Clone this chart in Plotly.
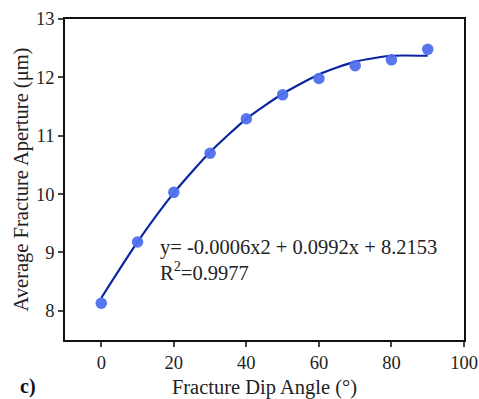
import plotly.graph_objects as go

# Measured aperture vs dip angle
dip_angle = [0, 10, 20, 30, 40, 50, 60, 70, 80, 90]
aperture = [8.13, 9.18, 10.03, 10.70, 11.29, 11.70, 11.98, 12.20, 12.30, 12.48]
# Fitted trend values at each dip angle
fitted = [8.22, 9.18, 10.02, 10.72, 11.29, 11.72, 12.05, 12.27, 12.37, 12.37]

x_ticks = [0, 20, 40, 60, 80, 100]
y_ticks = [8, 9, 10, 11, 12, 13]

FONT = "Liberation Serif, Times New Roman, serif"

# plot area in pixels
L, R, T, B = 65, 15, 19, 59
W, H = 479, 399
PW, PH = W - L - R, H - T - B


def px_x(px):
    return (px - L) / PW


def px_y(py):
    return (H - B - py) / PH


fig = go.Figure()
fig.add_trace(go.Scatter(
    x=dip_angle, y=fitted, mode="lines",
    line=dict(color="#0b24a3", width=2.2, shape="spline", smoothing=0.6),
    showlegend=False, hoverinfo="skip",
))
fig.add_trace(go.Scatter(
    x=dip_angle, y=aperture, mode="markers",
    marker=dict(color="#4f70ee", size=11.5, opacity=0.95),
    showlegend=False,
))

fig.add_annotation(
    x=px_x(158), y=px_y(247), xref="paper", yref="paper",
    xanchor="left", yanchor="middle",
    text="y= -0.0006x2 + 0.0992x + 8.2153", showarrow=False,
    font=dict(family=FONT, size=20.5, color="#222"),
)
fig.add_annotation(
    x=px_x(158), y=px_y(271), xref="paper", yref="paper",
    xanchor="left", yanchor="middle",
    text="R<sup>2</sup>=0.9977", showarrow=False,
    font=dict(family=FONT, size=20.5, color="#222"),
)
fig.add_annotation(
    x=px_x(28), y=px_y(386), xref="paper", yref="paper",
    xanchor="center", yanchor="middle",
    text="<b>c)</b>", showarrow=False,
    font=dict(family=FONT, size=20, color="#111"),
)

fig.update_layout(
    width=W, height=H,
    margin=dict(l=L, r=R, t=T, b=B, autoexpand=False),
    paper_bgcolor="white", plot_bgcolor="white",
    font=dict(family=FONT, size=18, color="#222"),
)

fig.update_xaxes(
    range=[-10, 100], tickvals=x_ticks, ticks="outside", ticklen=5, tickwidth=1.5,
    showline=True, linecolor="#111", linewidth=1.8, mirror=True, showgrid=False,
    zeroline=False, tickfont=dict(size=18.5), automargin=False,
    title=dict(text="Fracture Dip Angle (°)", font=dict(size=20.5), standoff=10),
)
fig.update_yaxes(
    range=[7.5, 13], tickvals=y_ticks, ticks="outside", ticklen=5, tickwidth=1.5,
    showline=True, linecolor="#111", linewidth=1.8, mirror=True, showgrid=False,
    zeroline=False, tickfont=dict(size=18.5), automargin=False,
    title=dict(text="Average Fracture Aperture (μm)", font=dict(size=20.5), standoff=2),
)

fig.write_html("out.html")
